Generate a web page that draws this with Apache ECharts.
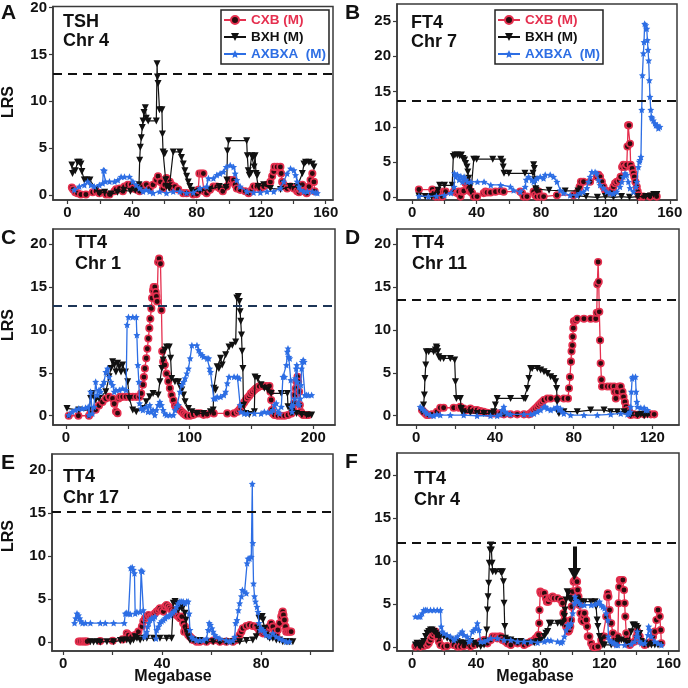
<!DOCTYPE html>
<html><head><meta charset="utf-8">
<script src="https://cdn.jsdelivr.net/npm/echarts@6/dist/echarts.min.js"></script>
<style>html,body{margin:0;padding:0;background:#fff}#c{width:688px;height:688px}</style>
</head><body><div id="c"></div>
<script>
// ---------- DATA ----------
const seriesNames = ['CXB (M)', 'BXH (M)', 'AXBXA  (M)'];
const panelLetters = ['A','B','C','D','E','F'];
const traitLabels = ['TSH','FT4','TT4','TT4','TT4','TT4'];
const chrLabels = ['Chr 4','Chr 7','Chr 1','Chr 11','Chr 17','Chr 4'];
const thresholds = [12.9, 13.75, 12.85, 13.55, 15.1, 12.15];
const xTickLabels = [[0,40,80,120,160],[0,40,80,120,160],[0,100,200],[0,40,80,120],[0,40,80],[0,40,80,120,160]];
const xTickMarks = [[0,20,40,60,80,100,120,140,160],[0,20,40,60,80,100,120,140,160],[0,50,100,150,200],[0,20,40,60,80,100,120],[0,20,40,60,80,100],[0,20,40,60,80,100,120,140,160]];
const yTickLabels = [[0,5,10,15,20],[0,5,10,15,20,25],[0,5,10,15,20],[0,5,10,15,20],[0,5,10,15,20],[0,5,10,15,20]];
const arrowF = [101.3, 11.7, 8.5]; // x, from y, to y

const cxbA = [[2.7,0.8],[3.5,0.6],[4.8,0.3],[6.2,0.2],[8.3,0.05],[11.4,0.05],[15.6,0.3],[17.7,0.4],[19.7,0.2],[23.9,0.05],[26,0.05],[29.1,0.4],[30.1,0.6],[32.2,0.7],[34.3,0.4],[35.3,0.9],[37.4,1.1],[39.5,1.1],[40.5,0.7],[42.6,0.6],[44.7,0.4],[46.8,0.9],[48.8,1.1],[50.9,0.7],[53,1.1],[55.1,1.6],[56.1,2.0],[57.6,1.4],[59.2,0.7],[60.3,1.1],[61.3,1.8],[62.3,1.1],[63.4,1.4],[64.4,1.1],[65.5,0.7],[66.5,0.9],[68.6,0.6],[71.7,0.2],[73.8,0.2],[77.9,0.05],[80,0.1],[81,0.55],[81.7,2.3],[83.1,2.3],[84.2,2.3],[84.6,0.4],[86.2,0.2],[88.3,0.55],[90.4,0.9],[92.5,0.9],[94.5,0.7],[96.2,0.4],[98.7,0.9],[100.4,1.4],[101.2,1.6],[102.9,1.6],[103.9,1.1],[104.9,0.7],[107,0.55],[110.1,0.4],[112.2,0.2],[114.3,0.55],[115.3,0.9],[117.4,0.9],[119.5,0.7],[121.6,0.9],[123.6,1.1],[125.7,1.4],[126.8,2.0],[127.8,2.5],[128.2,3.0],[129.9,3.0],[131.9,3.0],[132.4,2.3],[133,1.4],[134,1.1],[135.1,0.9],[136.1,0.7],[138.2,0.9],[140.3,0.7],[142.3,0.4],[143.4,0.3],[144.4,0.55],[145.5,1.1],[146.5,0.4],[148.2,0.2],[149.6,0.9],[150.6,1.6],[151.7,2.3],[152.7,1.4],[153.1,0.4]];
const bxhA = [[2.7,3.2],[3.1,2.3],[4.8,2.6],[6.2,3.5],[7.3,3.5],[8.3,3.3],[8.9,2.5],[10.4,1.6],[11.9,1.6],[13.9,1.6],[17.7,0.6],[19.7,0.2],[23,0.3],[27,0.1],[31,0.3],[35,0.5],[39,0.4],[42,0.5],[44,0.6],[44.3,1.1],[44.7,3.7],[45.1,5.1],[45.7,6.1],[46.3,7.2],[46.8,7.9],[47.4,8.8],[48.2,9.3],[48.8,8.2],[50,7.9],[55,7.9],[55.5,14.0],[55.7,12.6],[56.1,11.9],[57,9.1],[58.5,9.1],[58.8,6.5],[59.2,4.6],[60.2,4.4],[60.8,1.6],[61.3,0.9],[63,0.7],[65.5,4.6],[69.6,4.6],[70.6,4.0],[71.7,3.3],[72.7,2.6],[73.8,2.0],[74.8,1.4],[75.8,0.9],[76.9,0.5],[77.9,0.3],[82,0.4],[88,0.6],[94,0.9],[98,0.8],[98.7,1.6],[99.1,4.7],[99.8,5.8],[111,5.8],[111.4,4.2],[112,2.6],[112.6,2.1],[113.5,2.3],[114.1,4.2],[114.8,4.0],[115.6,3.0],[116.2,4.2],[116.8,2.3],[117.6,2.1],[118.2,0.9],[121.5,1.1],[125.7,0.7],[132,0.6],[138,0.9],[142.3,0.9],[145.5,2.3],[146.5,3.3],[147.5,3.5],[149.6,3.5],[151.7,3.3],[152.7,3.0]];
const axbxaA = [[4.2,0.56],[7.3,0.91],[10.4,1.08],[12.5,1.43],[14.5,1.08],[16.6,0.91],[19.7,1.08],[21.8,1.25],[22.2,2.65],[22.9,2.6],[23.5,1.43],[26,1.43],[29.1,1.43],[31.2,1.6],[33.2,1.95],[35.3,1.95],[38.4,1.95],[40.5,1.43],[42.6,1.08],[44.7,0.73],[46.8,0.38],[48.8,0.56],[50.9,0.38],[53,0.21],[57.1,0.38],[61.3,0.21],[65.5,0.38],[69.6,0.38],[73.8,0.21],[77.9,0.28],[82.1,0.73],[86.2,0.91],[87.3,1.78],[90.4,1.78],[92.5,2.13],[94.5,2.3],[96.6,2.47],[98.3,3.0],[100.8,3.17],[102.9,3.0],[103.9,2.3],[104.9,1.6],[107,0.91],[111.2,0.38],[115.3,0.28],[119.5,0.28],[123.6,0.38],[127.8,0.38],[131.9,0.73],[134,1.43],[136.1,2.3],[138.2,2.82],[140.3,2.65],[141.3,2.13],[142.3,1.43],[143.4,0.91],[144.4,0.56],[146.5,0.38],[148.6,0.38],[151.7,0.38],[153.8,0.28],[154.8,0.21]];

const cxbB = [[4.1,1.1],[12.4,1.1],[13.4,0.6],[14.5,0.1],[15.5,0.8],[16.5,0.1],[17.6,0.6],[18.6,0.1],[19.6,0.8],[20.7,0.8],[25.8,0.8],[27.9,0.6],[28.9,0.8],[30,0.1],[31,0.8],[32,0.9],[33.1,2.0],[34.1,2.2],[34.5,2.1],[35.1,1.3],[36.2,0.8],[37.2,0.6],[38.2,0.1],[40.3,0.1],[44.4,0.6],[45.5,0.8],[46.5,0.7],[48.6,0.7],[51.7,0.8],[54.8,0.9],[56.8,0.8],[67.1,0.8],[68.2,0.6],[69.2,0.1],[71.3,0.1],[75.4,0.8],[76.4,0.3],[77.5,0.1],[78.5,0.8],[79.5,0.1],[81.6,0.1],[89.9,0.3],[100.2,0.3],[102.3,0.6],[103.3,0.8],[104,1.5],[104.8,2.2],[106.4,2.2],[110.5,2.2],[114.7,2.9],[115.7,3.2],[116.7,2.9],[117.8,2.2],[118.8,1.5],[119.8,1.0],[120.9,0.8],[122.9,0.8],[124,1.0],[125,1.5],[126,2.0],[127.1,2.2],[128.7,2.4],[129.5,2.9],[130.4,4.3],[131.2,4.6],[132.2,4.3],[133.3,4.6],[133.7,7.2],[134.1,10.2],[134.7,10.2],[135.3,7.6],[135.7,4.6],[136.6,4.1],[137.4,3.4],[138,2.9],[138.6,2.2],[139.5,1.5],[140.1,0.8],[140.7,0.3],[141.5,0.1],[143.6,0.1],[147.7,0.1],[151.9,0.1]];
const bxhB = [[4.1,0.2],[8,0.1],[12,0.1],[15,0.3],[16,1.0],[17,1.7],[20,1.7],[24.8,1.7],[25.5,5.8],[26.5,6.0],[28,6.0],[29.5,5.9],[30.5,6.0],[31.5,5.5],[32.5,5.3],[33.1,4.8],[34,4.3],[34.5,3.6],[35,2.7],[35.5,1.8],[36,1.5],[36.5,0.8],[38.2,5.4],[40,5.4],[50,5.4],[55,5.4],[56.2,5.0],[56.5,4.3],[57,3.4],[60,3.4],[70,3.4],[75,3.4],[75.4,4.6],[75.8,4.1],[76.2,2.5],[76.7,1.2],[77,1.0],[85,1.0],[95,0.9],[103,0.9],[103.5,0.2],[108,0.1],[115,0.0],[120,0.1],[125,0.0],[130,0.1],[135,0.0],[140,0.1],[145,0.1],[148,0.2],[150,0.4],[152,0.4]];
const axbxaB = [[4.1,0.2],[10,0.1],[15,0.2],[20,0.3],[24,0.6],[26,1.5],[26.2,3.4],[27.1,2.9],[28.1,3.2],[29.1,2.5],[30.2,3.0],[31.2,2.2],[32.2,2.9],[33.3,2.5],[34.3,2.2],[36.4,2.2],[40.5,2.2],[44.6,2.2],[48.8,1.75],[54.9,1.75],[61,1.5],[63,1.0],[67.1,0.8],[70.2,1.5],[70.8,2.5],[72.3,2.9],[74.4,2.45],[75.4,2.2],[76.4,2.45],[77.5,2.7],[79.5,2.9],[81.6,2.7],[82.6,3.2],[85.7,3.2],[87.8,2.9],[89.9,2.2],[92,1.0],[94,0.6],[98.1,0.3],[102.3,0.3],[104.3,0.6],[106.4,0.8],[108.5,1.3],[109.5,2.2],[110.5,2.9],[111.6,3.6],[113.6,3.6],[114.7,3.4],[115.7,2.45],[116.7,1.75],[118.8,1.3],[120.9,0.8],[122.9,0.6],[125,0.5],[127.1,0.8],[129.1,1.5],[130.2,2.2],[131.2,2.9],[132.2,3.4],[133.3,3.2],[134.3,2.2],[135.3,1.3],[137.4,0.8],[139,1.5],[139.5,2.2],[140.5,4.3],[141.1,5.05],[141.5,5.3],[142.1,5.75],[142.6,12.4],[143,17.3],[143.6,20.4],[144,22.0],[144.4,24.6],[145.1,24.4],[145.7,23.9],[146.1,22.3],[146.5,20.9],[146.9,19.4],[147.3,16.6],[147.7,14.25],[148.2,12.4],[148.6,11.4],[149,11.2],[149.8,10.9],[150.8,10.5],[151.4,10.2],[152.3,10.2],[152.9,9.8],[153.9,10.0]];

const cxbC = [[2.2,0.0],[10,0.0],[18.6,0.0],[19.9,0.3],[24,0.7],[26.7,1.2],[29.5,1.6],[32.2,2.0],[34.9,2.2],[37.7,2.0],[39,1.4],[40.4,0.5],[41.7,0.3],[42.6,2.0],[43.7,2.2],[45.8,2.2],[48.6,2.2],[51.3,2.2],[54,2.2],[56.8,2.2],[59.5,2.2],[60.8,2.6],[62.2,3.6],[63,4.5],[63.8,5.5],[64.9,6.7],[65.8,7.8],[66.6,9.0],[67.4,10.2],[68.2,11.3],[69,12.5],[69.6,13.7],[70.4,14.6],[70.9,15.0],[71.8,15.0],[72.6,14.4],[73.1,13.9],[73.7,13.3],[74.5,17.9],[75.3,18.3],[76.4,17.7],[77.2,12.3],[77.8,7.5],[78.6,6.3],[79.9,5.9],[81.3,4.9],[82.7,4.0],[84,3.2],[85.4,2.4],[86.8,1.8],[88.1,1.2],[89.5,1.05],[90.9,0.85],[92.2,0.66],[93.6,0.47],[95,0.27],[96.3,0.1],[97.7,0.0],[100.4,0.0],[103.1,0.1],[105.9,0.27],[108.6,0.27],[111.3,0.1],[114.1,0.16],[119.5,0.27],[130.4,0.27],[135.9,0.27],[138.6,0.47],[140,0.66],[141.3,0.93],[142.7,1.24],[144.1,1.55],[145.4,1.83],[146.8,2.1],[148.2,2.33],[149.5,2.6],[150.9,2.8],[152.3,3.0],[153.6,3.18],[155,3.3],[156.3,3.42],[159.1,3.46],[161.8,3.46],[164.5,3.46],[165.3,2.8],[165.9,1.83],[166.4,0.66],[167.3,0.27],[168.6,0.08],[171.4,0.0],[174.1,0.0],[176.8,0.0],[179.5,0.08],[182.3,0.27],[183.6,0.66],[184.4,1.44],[185,2.41],[185.8,3.18],[186.4,3.96],[187.2,4.54],[187.7,3.96],[188.5,2.8],[189.1,1.24],[189.9,0.47],[190.5,0.27],[191.8,0.08],[194.5,0.08],[195.9,0.08]];
const bxhC = [[0.8,0.85],[10.4,0.66],[18.6,0.66],[19.9,2.0],[21.3,2.6],[24,1.83],[26.7,2.0],[32.2,2.8],[34.9,4.54],[36.3,5.5],[37.7,6.3],[39,5.9],[40.4,5.1],[41.7,6.1],[43.1,5.7],[44.5,5.1],[45.8,5.9],[48,5.1],[49.9,3.96],[51.3,2.0],[54,0.66],[56.8,0.47],[62.2,0.85],[64.9,1.63],[67.7,2.2],[70.4,2.6],[74.5,2.4],[75.9,3.96],[77.5,5.5],[78.6,6.5],[79.9,7.65],[81.3,8.0],[83.5,8.0],[84.6,6.7],[85.4,4.35],[88.1,3.96],[90.9,3.96],[92.2,3.4],[93.6,3.0],[95,2.4],[96.3,1.63],[99,0.85],[101.8,0.47],[105.9,0.27],[111.3,0.27],[116.8,0.47],[119,0.66],[119.5,3.2],[120.9,3.0],[122.2,5.7],[123.6,5.5],[125,6.7],[126.3,5.9],[129.1,7.1],[131.8,8.0],[134.5,8.2],[137.2,8.6],[138.1,13.7],[139.4,13.9],[140.2,13.3],[140.8,12.1],[141.3,11.0],[141.9,9.4],[142.4,7.5],[143,5.5],[143.5,1.2],[145.4,0.27],[148.2,0.15],[152.3,0.47],[152.8,4.5],[155,4.35],[157.7,3.6],[160.4,3.2],[163.2,3.0],[165.9,2.6],[174.1,2.6],[179,2.6],[179.5,1.05],[182.3,0.47],[186.4,0.27],[190.5,0.15],[194.5,0.08],[198.6,0.08]];
const axbxaC = [[2.2,0.08],[4.9,0.47],[7.6,0.66],[10.4,0.85],[13.1,0.85],[15.8,0.93],[18,1.05],[18.6,0.08],[19.9,2.8],[21.3,0.27],[22.6,1.05],[24,3.96],[25.4,2.4],[26.7,3.0],[28.1,2.8],[29.5,3.57],[30.8,3.96],[32.2,5.1],[33.6,5.5],[34.9,4.54],[36.3,3.96],[37.7,3.57],[39,2.8],[40.4,3.0],[43.1,3.0],[45.8,3.18],[48.6,3.0],[49.4,10.6],[50.5,11.5],[54,11.5],[56.8,11.5],[57.3,9.4],[58.1,5.9],[58.9,3.96],[59.5,1.44],[60.8,0.85],[62.2,0.66],[64.9,1.05],[66.3,0.47],[67.7,1.24],[69,0.47],[70.4,0.66],[71.8,0.08],[73.1,0.66],[74.5,1.24],[75.9,1.63],[77.2,1.24],[78.6,0.66],[79.9,0.27],[81.3,0.08],[84,0.08],[86.8,0.08],[88.1,0.66],[89.5,1.05],[90.9,1.24],[92.2,2.8],[93.6,3.57],[95,3.96],[96.3,4.35],[97.7,4.93],[99,5.5],[100.4,6.7],[101.8,8.2],[105.9,8.2],[107.2,7.65],[108.6,7.26],[110,7.07],[111.3,6.87],[114.1,6.68],[115.4,6.68],[116.2,5.5],[116.8,5.1],[119.5,2.0],[120.9,2.0],[122.2,2.2],[125,2.2],[127.7,2.4],[129.1,2.8],[130.4,3.77],[131.8,4.54],[135.9,4.54],[138.6,4.54],[140,4.35],[140.8,1.24],[141.3,0.47],[144.1,0.27],[146.8,0.27],[152.3,0.27],[157.7,0.27],[160.4,0.47],[163.2,0.39],[165.9,0.47],[167.3,0.66],[168.6,1.24],[170,1.44],[171.4,0.47],[172.7,0.27],[174.1,1.05],[175.4,4.54],[176.8,4.54],[178.2,5.9],[179,7.46],[179.5,7.84],[180.1,6.87],[180.9,6.68],[181.7,4.15],[182.3,1.05],[182.8,0.47],[183.6,1.24],[185,2.0],[185.5,4.35],[186.1,5.5],[186.6,5.9],[187.2,3.96],[187.7,1.44],[188.5,1.24],[189.4,2.0],[189.9,3.57],[190.5,5.5],[191,6.29],[191.8,6.49],[192.6,6.29],[193.2,2.4],[194.5,2.4],[195.9,2.4],[198.6,2.4]];

const cxbD = [[2.9,0.66],[3.7,0.47],[4.6,0.27],[5.4,0.08],[6.3,0.08],[8,0.16],[10.5,0.47],[12.2,0.93],[13.9,0.93],[19,0.93],[21.6,0.93],[22.4,1.05],[24.1,0.85],[25.8,0.66],[27.5,0.85],[29.2,0.66],[30.9,0.66],[32.6,0.54],[34.3,0.47],[36,0.35],[37.7,0.27],[39.4,0.27],[41.1,0.27],[42.8,0.27],[44.5,0.16],[47.9,0.16],[51.3,0.16],[54.7,0.16],[57.2,0.16],[58.1,0.27],[58.9,0.47],[59.8,0.66],[60.6,0.85],[61.5,1.05],[62.3,1.24],[63.2,1.44],[64,1.63],[64.9,1.83],[66.6,2.0],[68.3,2.0],[71.6,2.0],[75,2.0],[77.1,2.0],[77.6,3.2],[78.1,4.5],[78.6,6.3],[78.9,7.5],[79.3,8.2],[79.5,9.2],[79.8,10.2],[80.1,11.0],[81,11.1],[81.8,11.3],[85.2,11.3],[88.6,11.3],[91.2,11.3],[91.7,12.0],[92,15.3],[92.4,17.9],[92.7,15.6],[93,12.1],[93.4,8.8],[93.7,6.1],[94.1,4.2],[94.4,3.4],[97.1,3.4],[98.8,3.4],[100.5,3.4],[100.8,2.8],[101.4,2.0],[102.2,2.8],[103.1,3.4],[103.9,3.4],[104.8,2.8],[105.3,2.2],[106,1.6],[106.6,1.05],[107.3,0.66],[108.2,0.47],[109,0.08],[110.7,0.16],[112.4,0.08],[115.8,0.16],[119.2,0.16],[120.9,0.16]];
const bxhD = [[2.9,0.47],[3.7,1.24],[4.1,2.41],[4.4,4.35],[4.8,5.9],[5.1,7.46],[6.3,7.46],[8.8,7.46],[9.7,7.65],[10.2,8.0],[10.5,7.84],[10.9,7.46],[11.4,6.87],[12.2,6.68],[13.9,6.68],[17.3,6.68],[19.5,6.49],[19.9,3.96],[20.4,2.02],[22.4,2.02],[22.8,0.85],[23.3,0.47],[24.1,0.27],[27.5,0.35],[30.9,0.27],[34.3,0.27],[37.7,0.27],[39.4,0.47],[40.2,1.24],[41.1,2.02],[47.9,2.02],[54.7,2.02],[55.5,2.02],[56.4,3.18],[57.2,4.35],[58.1,5.51],[58.9,5.51],[61.5,5.51],[63.2,5.32],[64.9,5.13],[66.6,4.93],[68.3,4.54],[69.9,4.35],[70.8,3.96],[71.3,3.18],[71.6,1.63],[72,0.47],[72.5,0.27],[75,0.47],[81.8,0.47],[88.6,0.66],[95.4,0.66],[98.8,0.47],[102.2,0.47],[105.6,0.47],[107.3,0.27],[109,0.08],[112.4,0.08],[114.1,0.16],[115.8,0.0],[117.5,0.08]];
const axbxaD = [[2,1.05],[2.9,0.85],[3.7,0.66],[4.6,0.47],[5.4,0.27],[7.1,0.08],[8.8,0.0],[10.5,0.16],[12.2,0.08],[17.3,0.08],[24.1,0.08],[30.9,0.0],[37.7,0.0],[41.1,0.0],[42.8,0.16],[43.6,0.66],[44.5,1.05],[45.3,0.47],[46.2,0.27],[47.9,0.16],[54.7,0.16],[58.1,0.16],[59.8,0.27],[61.5,0.47],[63.2,0.66],[64.9,1.05],[65.7,1.05],[66.6,0.85],[68.3,0.66],[69.9,0.85],[71.6,1.05],[72.5,0.66],[73.3,0.85],[74.2,0.47],[75,0.27],[78.4,0.08],[85.2,0.08],[92,0.08],[98.8,0.16],[103.9,0.27],[107.3,0.16],[108.1,0.27],[108.7,0.47],[109,1.05],[109.3,2.8],[109.7,4.35],[110,4.54],[111.4,4.54],[111.7,2.8],[112.1,1.63],[112.4,1.05],[114.1,0.93],[115.8,0.93],[116.6,0.66],[117.5,0.66]];

const cxbE = [[6.3,0.05],[7,0.05],[7.8,0.05],[8.5,0.05],[9.1,0.05],[9.7,0.05],[15,0.1],[20,0.15],[24,0.3],[25.7,1.0],[26.4,0.8],[27.7,0.6],[29.1,0.8],[30.4,1.2],[31.8,1.8],[32.4,2.4],[33.1,2.75],[33.8,2.95],[34.5,3.14],[35.1,2.95],[35.8,2.95],[36.5,3.14],[37.1,3.33],[37.8,3.53],[38.5,3.72],[39.1,3.92],[39.8,3.72],[40.5,3.53],[41.2,4.11],[41.8,4.3],[42.5,4.11],[43.2,3.92],[43.8,3.72],[44.5,3.53],[45.2,3.33],[45.8,3.14],[46.5,2.95],[47.2,2.75],[47.9,2.95],[48.5,2.17],[48.9,1.2],[49.2,1.78],[49.9,1.2],[50.5,0.81],[51.2,0.62],[51.9,0.43],[52.5,0.23],[53.9,0.04],[55.2,0.04],[57.9,0.04],[60.6,0.16],[63.3,0.04],[65.9,0.04],[68.6,0.04],[69.9,0.23],[70.6,0.43],[71.3,0.81],[72,1.2],[72.6,1.59],[74,1.85],[75.3,1.98],[76.6,1.85],[78,1.78],[78.7,1.59],[79.3,1.2],[80.7,1.0],[81.4,1.2],[82,1.4],[82.7,1.59],[83.4,1.78],[84,2.17],[84.7,1.78],[85.4,1.2],[86.1,0.81],[86.7,1.4],[87.4,2.17],[88.1,2.95],[88.5,3.33],[88.7,3.53],[89,3.14],[89.4,2.56],[89.8,1.78],[90.1,1.2],[90.8,1.2],[91.4,1.2],[92.1,1.2]];
const bxhE = [[11,0.04],[12.3,0.0],[13.7,0.04],[15,0.0],[17.7,0.04],[20.4,0.04],[23.1,0.16],[24.4,0.23],[25.7,0.23],[27.1,0.04],[28.4,0.23],[29.1,0.62],[29.8,0.43],[31.1,0.23],[32.4,0.43],[33.8,0.43],[36.5,0.43],[39.1,0.43],[41.8,0.43],[43.8,0.43],[44.5,4.5],[45.2,4.7],[45.8,4.5],[46.5,3.7],[47.2,4.1],[47.9,3.92],[48.5,4.11],[49.2,3.33],[49.6,2.56],[49.9,1.2],[50.5,0.62],[51.2,0.23],[52.5,0.23],[55.2,0.16],[57.9,0.04],[60.6,0.04],[63.3,0.0],[65.9,0.0],[68.6,0.04],[71.3,0.04],[74,0.16],[76.6,0.23],[78,0.62],[78.7,1.59],[79.1,2.75],[79.6,2.95],[80,2.95],[80.4,2.95],[80.7,2.56],[81.4,1.59],[82,0.81],[82.7,0.62],[83.4,0.43],[84.7,0.43],[86.1,0.23],[87.4,0.23],[88.7,0.04],[90.1,0.04],[91.4,0.04],[92.8,0.04]];
const axbxaE = [[4.6,2.2],[5.1,2.75],[5.6,3.3],[6.2,3.1],[6.7,2.75],[7.2,2.4],[7.8,2.2],[9,2.2],[11,2.2],[15,2.2],[17,2.2],[20.4,2.2],[24.7,2.2],[25.1,3.3],[25.7,3.4],[26.4,3.3],[27.1,3.26],[27.3,8.6],[27.9,8.7],[28.4,8.4],[28.8,8.0],[29.1,3.3],[29.8,3.5],[31.1,3.5],[31.5,8.3],[32,8.2],[32.4,3.7],[32.8,0.6],[33.4,0.8],[33.8,1.2],[34.2,1.8],[34.6,2.2],[35.1,2.6],[35.8,2.75],[36.5,2.75],[37.1,2.95],[37.5,0.4],[37.8,1.4],[38.5,1.8],[39.1,2.2],[39.8,2.4],[40.5,2.56],[41.2,2.75],[41.8,2.95],[42.5,3.0],[43.2,3.1],[43.8,3.3],[44.5,3.5],[45.2,3.7],[45.8,4.1],[46.5,4.5],[47.2,4.7],[47.9,4.7],[48.5,4.7],[49.2,4.5],[49.9,4.7],[50.5,4.7],[50.9,3.3],[51.2,1.4],[51.9,0.6],[52.5,0.4],[53.9,0.2],[55.2,0.2],[56.6,0.2],[57.9,0.4],[58.6,1.4],[59,2.2],[59.5,2.0],[60.1,1.6],[60.6,1.2],[61.3,0.8],[61.9,0.6],[63.3,0.4],[65.9,0.2],[67.3,0.04],[68.6,0.2],[69.3,0.6],[69.7,2.2],[70.2,2.56],[70.8,3.7],[71.3,4.5],[72,5.3],[72.4,6.05],[73.3,5.85],[74,5.66],[74.3,9.15],[74.7,9.7],[75.3,9.7],[76,9.9],[76.4,18.4],[76.6,11.5],[76.9,6.8],[77.3,5.3],[77.7,4.7],[78.3,4.1],[78.7,3.5],[79.1,2.2],[79.6,1.4],[80,1.6],[80.7,1.4],[81.4,1.2],[82,0.8],[83.4,0.6],[84.7,1.0],[86.1,0.6],[87.4,0.4],[88.7,0.23],[90.1,0.04],[91.4,0.04]];

const cxbF = [[2.1,0.08],[3.1,0.27],[5.2,0.08],[7.3,0.15],[9.4,0.27],[10.4,0.46],[11.5,0.85],[12.5,1.24],[13.6,1.55],[14.6,1.82],[15.7,1.24],[16.7,0.66],[17.7,0.27],[19.8,0.08],[21.9,0.15],[26.1,0.27],[28.2,0.08],[30.3,0.08],[32.4,0.15],[36.5,0.08],[38.6,0.27],[40.7,0.46],[42.8,0.66],[44.9,0.85],[45.9,0.66],[47,0.46],[49.1,0.85],[50.3,1.24],[52.2,1.24],[53.2,1.04],[54.3,1.24],[55.3,1.24],[56.4,0.85],[58.2,0.66],[59.5,0.46],[61.6,0.27],[65.8,0.46],[69.9,0.27],[72,0.46],[74.1,0.66],[76.2,0.85],[77.2,1.04],[78.3,1.24],[78.9,1.43],[79.3,2.79],[79.5,4.33],[80,6.46],[80.4,6.27],[81.4,6.27],[82.5,6.27],[83.5,5.69],[84.1,5.3],[85,5.3],[85.6,5.69],[86.6,5.69],[87.7,5.88],[88.7,5.69],[90.8,5.69],[92.9,5.49],[93.9,5.11],[94.4,3.95],[95,3.17],[96.1,2.4],[97.1,2.01],[97.5,1.82],[98.1,2.01],[98.7,2.4],[99.2,3.17],[99.6,4.72],[100.2,6.46],[100.8,7.62],[101.7,7.81],[102.9,7.62],[103.3,6.65],[103.8,5.88],[104.4,4.91],[105,3.95],[105.8,3.17],[106.5,2.98],[107.1,3.56],[107.5,3.95],[108.6,3.17],[109.2,2.4],[109.6,1.24],[110.6,1.24],[111.7,0.46],[112.7,0.08],[113.8,0.0],[115.9,0.08],[118,0.85],[119,1.24],[120,1.24],[121.1,3.56],[121.7,5.88],[122.1,6.27],[122.5,5.88],[123.2,4.33],[124.2,2.79],[125.3,1.62],[126.3,0.85],[127.3,0.46],[128.4,1.24],[128.8,5.11],[129.2,7.0],[129.6,7.81],[130.5,7.81],[131.5,7.81],[132.2,6.65],[132.6,5.11],[133,3.56],[133.6,1.62],[134.2,0.85],[134.7,0.46],[135.7,0.27],[136.7,0.46],[138.8,0.66],[139.9,1.24],[140.5,1.82],[142,1.24],[143,0.66],[145.1,0.27],[147.2,0.46],[149.3,0.66],[150.3,1.24],[151.4,1.82],[152.4,3.17],[153.4,4.33],[154.5,3.56],[155.1,2.01],[155.5,0.46]];
const bxhF = [[2.1,0.27],[3.1,0.46],[4.2,0.27],[5.2,0.08],[6.3,0.46],[7.3,0.66],[8.4,1.24],[9.4,1.62],[10.4,1.82],[11.5,2.01],[12.5,2.01],[13.6,1.82],[14.6,1.62],[15.7,1.43],[16.7,1.24],[17.7,1.24],[19.8,1.24],[21.9,1.04],[24,0.85],[26.1,0.66],[28.2,0.66],[30.3,0.54],[32.4,0.46],[34.4,0.46],[36.5,0.66],[38.6,0.46],[40.7,0.27],[42.8,0.08],[44.9,0.27],[45.9,0.66],[46.6,2.01],[47,4.33],[47.4,5.88],[47.8,7.43],[48.2,9.75],[48.6,11.3],[49.1,11.88],[49.5,11.3],[49.9,9.75],[50.3,8.78],[52.2,8.78],[55.3,8.78],[56.4,8.78],[57,7.62],[57.4,5.11],[57.8,2.4],[58.2,1.04],[59.5,0.85],[61.6,0.85],[63.7,0.66],[67.8,0.66],[72,0.46],[76.2,0.54],[78.3,0.66],[80.4,0.85],[82.5,1.24],[83.5,1.62],[84.6,1.82],[85.6,2.79],[86.6,2.79],[90.8,2.79],[92.9,2.79],[93.9,2.79],[95,3.56],[95.4,4.33],[96.1,5.49],[96.7,6.46],[97.5,6.27],[98.1,5.69],[99.2,5.49],[101.3,5.49],[103.3,5.49],[105.4,5.3],[107.5,5.3],[111.7,5.3],[114.2,5.3],[114.8,4.72],[115.4,3.17],[115.9,2.4],[116.9,1.24],[118,0.85],[119,0.27],[120,0.27],[124.2,0.27],[126.3,0.46],[128.4,0.66],[130.5,0.85],[132.6,0.66],[134.7,0.46],[136.7,1.8],[137.8,2.6],[138.8,2.6],[139.9,2.4],[140.9,2.2],[142,1.6],[143,0.66],[145.1,0.46],[147.2,0.27],[149.3,0.27],[151.4,0.27],[153.4,0.27]];
const axbxaF = [[2.1,3.56],[4.2,3.56],[5.2,3.56],[6.3,3.95],[7.3,4.33],[8.4,4.33],[9.4,4.33],[11.5,4.33],[13.6,4.33],[15.7,4.33],[17.7,4.33],[18.2,2.4],[18.8,1.82],[19.8,1.62],[21.9,1.43],[24,1.24],[26.1,0.85],[27.1,1.04],[28.2,1.24],[30.3,1.62],[31.3,1.82],[32.4,1.43],[34.4,1.24],[35.5,0.66],[36.5,0.85],[37.6,1.82],[38.6,2.01],[39.7,2.2],[40.7,2.79],[41.8,2.01],[42.8,0.66],[44.9,0.66],[47,0.85],[49.1,1.04],[53.2,1.04],[57.4,0.85],[61.6,0.85],[65.8,0.66],[69.9,0.66],[74.1,0.66],[78.3,0.54],[82.5,0.66],[84.6,0.85],[86.6,0.78],[90.8,0.66],[92.9,0.54],[93.9,0.66],[95,1.24],[96.1,2.01],[97.1,2.6],[98.1,2.4],[99.2,2.79],[100.2,3.95],[101.3,5.11],[101.7,5.88],[102.3,5.49],[103.3,5.3],[104.4,5.11],[105.4,4.91],[107.5,4.91],[111.7,4.91],[114.2,5.0],[115.9,5.11],[116.9,5.3],[118,4.91],[119,4.72],[120,4.53],[121.1,3.95],[122.1,3.17],[122.5,1.24],[123.2,0.85],[124.2,0.66],[125.3,0.54],[126.3,0.46],[127.3,0.27],[128.4,0.27],[132.6,0.27],[136.7,0.39],[138.8,0.66],[139.9,1.24],[140.5,1.82],[140.9,1.24],[142,0.66],[143,0.46],[145.1,0.46],[147.2,1.43],[147.6,2.4],[148.2,2.01],[149.3,1.24],[151.4,0.66],[153.4,0.46],[155.5,0.27]];

const cxbAll = [cxbA, cxbB, cxbC, cxbD, cxbE, cxbF];
const bxhAll = [bxhA, bxhB, bxhC, bxhD, bxhE, bxhF];
const axbxaAll = [axbxaA, axbxaB, axbxaC, axbxaD, axbxaE, axbxaF];

// ---------- LAYOUT / STYLE ----------
const FONT = '"Liberation Sans", Arial, Helvetica, sans-serif';
const RED = '#e5304f', BLUE = '#2d6ee4', BLACK = '#111111', AXIS = '#3a3a3a';
const STAR = 'path://M0,-10L2.9,-3.6L9.5,-3.1L4.6,1.5L5.9,8.1L0,4.8L-5.9,8.1L-4.6,1.5L-9.5,-3.1L-2.9,-3.6Z';

const gridBoxes = [
  {left:53, top:4, width:280, height:196},
  {left:397, top:4, width:280, height:196},
  {left:53, top:229, width:282, height:196},
  {left:397, top:229, width:282, height:196},
  {left:52, top:454, width:281, height:197},
  {left:397, top:453, width:282, height:198}
];
const xRanges = [[-9,164.5],[-9.5,164.5],[-10.5,217.5],[-9.8,133.5],[-4.5,109],[-9.4,166.5]];
const yRanges = [[-0.53,20.1],[-0.38,27.4],[-1.08,21.75],[-1.08,21.75],[-1.05,21.86],[-0.43,22.55]];

const grid = [], xAxis = [], yAxis = [], series = [];
for (let i = 0; i < 6; i++) {
  grid.push(Object.assign({show:true, borderColor:AXIS, borderWidth:1.5, backgroundColor:'#fff'}, gridBoxes[i]));
  xAxis.push({
    type:'value', gridIndex:i, min:xRanges[i][0], max:xRanges[i][1],
    splitLine:{show:false},
    axisLine:{show:true, onZero:false, lineStyle:{color:AXIS, width:1.5}},
    axisTick:{show:true, length:4, lineStyle:{color:AXIS, width:1.2}, customValues:xTickMarks[i]},
    axisLabel:{customValues:xTickLabels[i], margin:5, color:BLACK, fontFamily:FONT, fontWeight:'bold', fontSize:15},
  });
  yAxis.push({
    type:'value', gridIndex:i, min:yRanges[i][0], max:yRanges[i][1],
    splitLine:{show:false},
    axisLine:{show:true, onZero:false, lineStyle:{color:AXIS, width:1.5}},
    axisTick:{show:true, length:4, lineStyle:{color:AXIS, width:1.2}, customValues:yTickLabels[i]},
    axisLabel:{customValues:yTickLabels[i], margin:6, color:BLACK, fontFamily:FONT, fontWeight:'bold', fontSize:15},
  });
  series.push({
    name:seriesNames[0], type:'line', xAxisIndex:i, yAxisIndex:i, data:cxbAll[i],
    symbol:'circle', symbolSize:6.5, showAllSymbol:true,
    lineStyle:{color:RED, width:1.3},
    itemStyle:{color:'#2a0b0e', borderColor:RED, borderWidth:1.6},
    z:2,
    markLine: i === 5 ? {
      silent:true, symbol:['none','triangle'], symbolSize:[13,12], label:{show:false},
      lineStyle:{color:BLACK, width:4, type:'solid'},
      data:[[{coord:[arrowF[0], arrowF[1]]},{coord:[arrowF[0], arrowF[2]]}]]
    } : undefined
  });
  series.push({
    name:seriesNames[1], type:'line', xAxisIndex:i, yAxisIndex:i, data:bxhAll[i],
    symbol:'triangle', symbolRotate:180, symbolSize:7, showAllSymbol:true,
    lineStyle:{color:BLACK, width:1.2},
    itemStyle:{color:BLACK},
    z:3,
    markLine:{
      silent:true, symbol:['none','none'], label:{show:false},
      lineStyle:{color: i === 2 ? '#1d3557' : BLACK, width:2, type:[9,6]},
      data:[{yAxis:thresholds[i]}]
    }
  });
  series.push({
    name:seriesNames[2], type:'line', xAxisIndex:i, yAxisIndex:i, data:axbxaAll[i],
    symbol:STAR, symbolSize:7, showAllSymbol:true,
    lineStyle:{color:BLUE, width:1.3},
    itemStyle:{color:BLUE},
    z:4
  });
}

function legendAt(left, top) {
  return {
    left:left, top:top, orient:'vertical', itemGap:3, itemWidth:22, itemHeight:10,
    padding:[3,3,3,2], borderColor:'#222', borderWidth:1.5, backgroundColor:'#fff',
    selectedMode:false,
    textStyle:{fontFamily:FONT, fontWeight:'bold', fontSize:13.5, color:BLACK},
    data:[
      {name:seriesNames[0], textStyle:{color:RED}},
      {name:seriesNames[1], textStyle:{color:BLACK}},
      {name:seriesNames[2], textStyle:{color:BLUE}}
    ]
  };
}

const letterPos = [[1,13],[345,13],[1,238],[345,238],[1,463],[345,462]];
const traitPos = [[63,22,41],[411,23,42],[75,243,264],[412,243,264],[63,477,498],[414,479,500]];
const lrsPos = [[9,102],[9,325],[9,536]];
const megaPos = [[173,677],[535,677]];

const graphic = [];
for (let i = 0; i < 6; i++) {
  graphic.push({type:'text', x:letterPos[i][0], y:letterPos[i][1], z:100,
    style:{text:panelLetters[i], font:'bold 21px ' + FONT, fill:BLACK, textVerticalAlign:'middle', textAlign:'left'}});
  graphic.push({type:'text', x:traitPos[i][0], y:traitPos[i][1], z:100,
    style:{text:traitLabels[i], font:'bold 18px ' + FONT, fill:BLACK, textVerticalAlign:'middle', textAlign:'left'}});
  graphic.push({type:'text', x:traitPos[i][0], y:traitPos[i][2], z:100,
    style:{text:chrLabels[i], font:'bold 18px ' + FONT, fill:BLACK, textVerticalAlign:'middle', textAlign:'left'}});
}
lrsPos.forEach(p => graphic.push({type:'text', x:p[0], y:p[1], rotation:Math.PI/2, z:100,
  style:{text:'LRS', font:'bold 16px ' + FONT, fill:BLACK, textVerticalAlign:'middle', textAlign:'center'}}));
megaPos.forEach(p => graphic.push({type:'text', x:p[0], y:p[1], z:100,
  style:{text:'Megabase', font:'bold 16px ' + FONT, fill:BLACK, textVerticalAlign:'middle', textAlign:'center'}}));

const chart = echarts.init(document.getElementById('c'), null, {renderer:'canvas', width:688, height:688});
chart.setOption({
  animation:false,
  backgroundColor:'#fff',
  grid, xAxis, yAxis, series,
  legend:[legendAt(221,10), legendAt(495,10)],
  graphic
});
</script></body></html>
